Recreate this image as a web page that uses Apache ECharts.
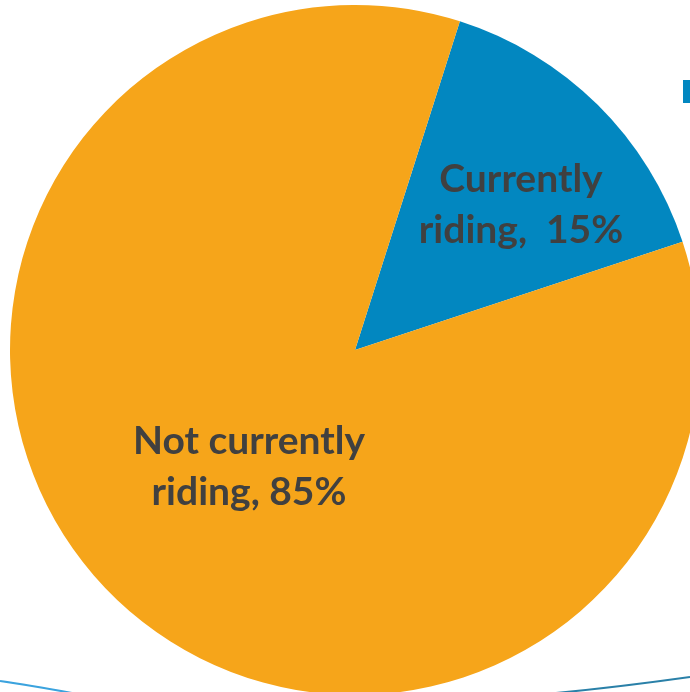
<!DOCTYPE html>
<html>
<head>
<meta charset="utf-8">
<script src="https://cdn.jsdelivr.net/npm/echarts@6/dist/echarts.min.js"></script>
<style>html,body{margin:0;padding:0;background:#fff}#c{width:690px;height:692px}</style>
</head>
<body>
<div id="c"></div>
<script>
const categories = ['Currently riding', 'Not currently riding'];
const values = [15, 85];
const labelTexts = ['Currently\nriding,  15%', 'Not currently\nriding, 85%'];
const colors = ['#0287C0', '#F6A51A'];

const chart = echarts.init(document.getElementById('c'), null, {renderer: 'canvas'});
const labelPos = [[521, 205], [249, 467]];
chart.setOption({
  animation: false,
  series: [{
    type: 'pie',
    center: [355, 350],
    radius: [0, 345],
    startAngle: 72.3,
    clockwise: true,
    silent: true,
    data: categories.map((c, i) => ({
      name: c,
      value: values[i],
      itemStyle: {color: colors[i]},
      label: {formatter: labelTexts[i]}
    })),
    label: {
      show: true,
      position: 'inside',
      color: '#404040',
      fontFamily: 'Lato',
      fontWeight: 'bold',
      fontSize: 39,
      lineHeight: 51,
      align: 'center'
    },
    labelLine: {show: false},
    labelLayout: function (p) {
      return {x: labelPos[p.dataIndex][0], y: labelPos[p.dataIndex][1], align: 'center', verticalAlign: 'middle'};
    }
  }],
  graphic: [
    {type: 'rect', shape: {x: 683, y: 80, width: 14, height: 23}, style: {fill: '#0287C0'}},
    {type: 'bezierCurve', shape: {x1: 0, y1: 681, x2: 72, y2: 693, cpx1: 28, cpy1: 685, cpx2: 50, cpy2: 689},
      style: {stroke: '#3BA3DE', lineWidth: 2, fill: null}},
    {type: 'bezierCurve', shape: {x1: 545, y1: 694, x2: 690, y2: 677, cpx1: 590, cpy1: 690, cpx2: 640, cpy2: 684},
      style: {stroke: '#2A80A8', lineWidth: 2, fill: null}}
  ]
});
</script>
</body>
</html>
